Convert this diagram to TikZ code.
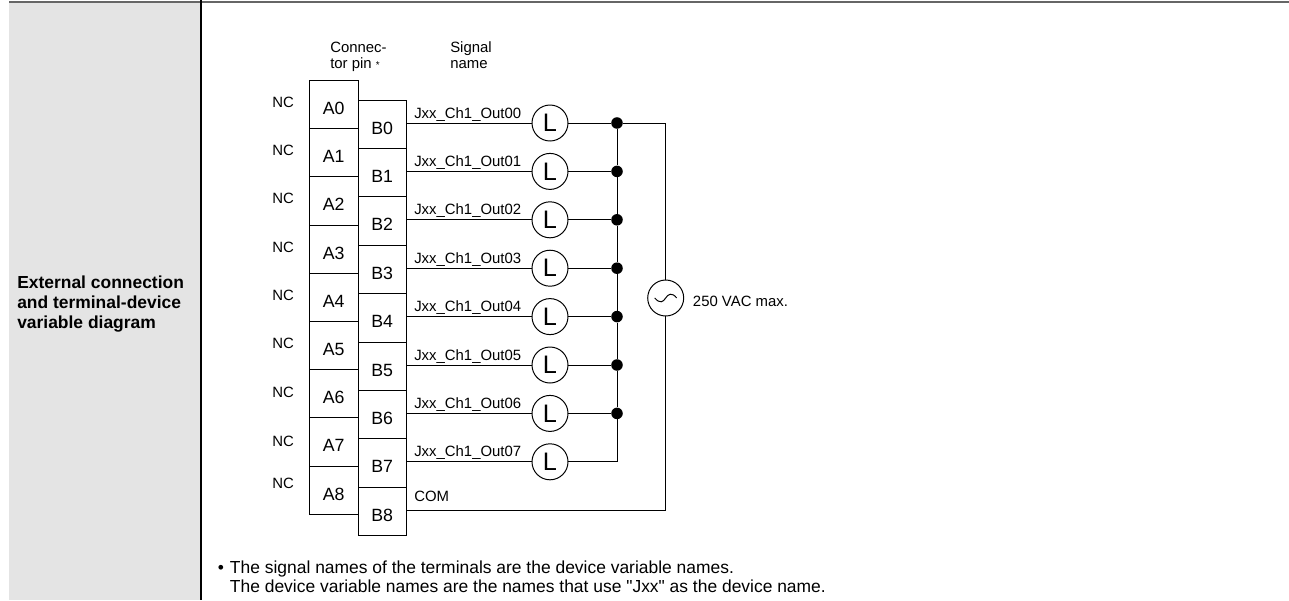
\documentclass[tikz,border=0pt]{standalone}
\usepackage{xcolor}
\usepackage{fontspec}
\setmainfont{Liberation Sans}
\definecolor{panelgray}{HTML}{E4E4E4}
\definecolor{rulegray}{HTML}{666666}
\tikzset{
  pinbox/.style={draw, line width=0.7pt, fill=white, minimum width=34.5pt, minimum height=34.4pt, inner sep=0pt, text height=14pt, text depth=0pt, font=\fontsize{12.6}{14}\selectfont},
  lamp/.style={draw, line width=0.7pt, circle, fill=white, minimum size=25.6pt, inner sep=0pt, font=\fontsize{18}{18}\selectfont},
  junction/.style={circle, fill=black, minimum size=8.2pt, inner sep=0pt},
  wire/.style={line width=0.7pt},
  lbl/.style={anchor=west, inner sep=0pt, text height=8pt, text depth=2.2pt, font=\fontsize{10.6}{12}\selectfont},
  note/.style={anchor=west, inner sep=0pt, text height=9.4pt, text depth=2.6pt, font=\fontsize{12.4}{14}\selectfont}
}
\begin{document}
\begin{tikzpicture}[x=0.025cm, y=-0.025cm]
\useasboundingbox (0,0) rectangle (1289,600);

\fill[panelgray] (9,2) rectangle (200,600);
\draw[rulegray, line width=1.4pt] (9,1.7) -- (1289,1.7);
\draw[black, line width=1.4pt] (201,0) -- (201,600);

\node[lbl] (headpin1) at (330,48.3) {Connec-};
\node[lbl] (headpin2) at (330,64) {tor pin {\fontsize{7}{7}\selectfont *}};
\node[lbl] (headsig1) at (450,48.3) {Signal};
\node[lbl] (headsig2) at (450,64) {name};

\node[pinbox] (a0) at (333.75,104.6) {A0};
\node[pinbox] (a1) at (333.75,152.8) {A1};
\node[pinbox] (a2) at (333.75,201) {A2};
\node[pinbox] (a3) at (333.75,249.2) {A3};
\node[pinbox] (a4) at (333.75,297.4) {A4};
\node[pinbox] (a5) at (333.75,345.6) {A5};
\node[pinbox] (a6) at (333.75,393.8) {A6};
\node[pinbox] (a7) at (333.75,442) {A7};
\node[pinbox] (a8) at (333.75,490.2) {A8};

\node[pinbox] (b0) at (382.25,124.2) {B0};
\node[pinbox] (b1) at (382.25,172.6) {B1};
\node[pinbox] (b2) at (382.25,221) {B2};
\node[pinbox] (b3) at (382.25,269.4) {B3};
\node[pinbox] (b4) at (382.25,317.8) {B4};
\node[pinbox] (b5) at (382.25,366.2) {B5};
\node[pinbox] (b6) at (382.25,414.6) {B6};
\node[pinbox] (b7) at (382.25,463) {B7};
\node[pinbox] (b8) at (382.25,511.4) {B8};

\node[lbl] (nc0) at (272,103.3) {NC};
\node[lbl] (nc1) at (272,151.3) {NC};
\node[lbl] (nc2) at (272,199.7) {NC};
\node[lbl] (nc3) at (272,248) {NC};
\node[lbl] (nc4) at (272,296) {NC};
\node[lbl] (nc5) at (272,344.5) {NC};
\node[lbl] (nc6) at (272,393) {NC};
\node[lbl] (nc7) at (272,442) {NC};
\node[lbl] (nc8) at (272,484.3) {NC};

\node[lbl] (sig0) at (414,114) {Jxx\_Ch1\_Out00};
\node[lbl] (sig1) at (414,162.4) {Jxx\_Ch1\_Out01};
\node[lbl] (sig2) at (414,210.8) {Jxx\_Ch1\_Out02};
\node[lbl] (sig3) at (414,259.2) {Jxx\_Ch1\_Out03};
\node[lbl] (sig4) at (414,307.6) {Jxx\_Ch1\_Out04};
\node[lbl] (sig5) at (414,356) {Jxx\_Ch1\_Out05};
\node[lbl] (sig6) at (414,404.4) {Jxx\_Ch1\_Out06};
\node[lbl] (sig7) at (414,452.8) {Jxx\_Ch1\_Out07};
\node[lbl] (com) at (414,497) {COM};

\node[lamp] (lamp0) at (550,123) {L};
\node[lamp] (lamp1) at (550,171.4) {L};
\node[lamp] (lamp2) at (550,219.8) {L};
\node[lamp] (lamp3) at (550,268.2) {L};
\node[lamp] (lamp4) at (550,316.6) {L};
\node[lamp] (lamp5) at (550,365) {L};
\node[lamp] (lamp6) at (550,413.4) {L};
\node[lamp] (lamp7) at (550,461.8) {L};

\node[junction] (dot0) at (617,123) {};
\node[junction] (dot1) at (617,171.4) {};
\node[junction] (dot2) at (617,219.8) {};
\node[junction] (dot3) at (617,268.2) {};
\node[junction] (dot4) at (617,316.6) {};
\node[junction] (dot5) at (617,365) {};
\node[junction] (dot6) at (617,413.4) {};

\node[lamp] (ac) at (665.7,298) {};
\node[lbl] (acmax) at (692.7,302.7) {250 VAC max.};
\coordinate (acin) at (665.7,123);
\coordinate (acout) at (665.7,510);

\draw[wire] (lamp0.west -| b0.east) -- (lamp0.west);
\draw[wire] (lamp1.west -| b1.east) -- (lamp1.west);
\draw[wire] (lamp2.west -| b2.east) -- (lamp2.west);
\draw[wire] (lamp3.west -| b3.east) -- (lamp3.west);
\draw[wire] (lamp4.west -| b4.east) -- (lamp4.west);
\draw[wire] (lamp5.west -| b5.east) -- (lamp5.west);
\draw[wire] (lamp6.west -| b6.east) -- (lamp6.west);
\draw[wire] (lamp7.west -| b7.east) -- (lamp7.west);

\draw[wire] (lamp0.east) -- (dot0);
\draw[wire] (lamp1.east) -- (dot1);
\draw[wire] (lamp2.east) -- (dot2);
\draw[wire] (lamp3.east) -- (dot3);
\draw[wire] (lamp4.east) -- (dot4);
\draw[wire] (lamp5.east) -- (dot5);
\draw[wire] (lamp6.east) -- (dot6);
\draw[wire] (lamp7.east) -- (lamp7.east -| dot6) -- (dot6);

\draw[wire] (dot0) -- (dot1);
\draw[wire] (dot1) -- (dot2);
\draw[wire] (dot2) -- (dot3);
\draw[wire] (dot3) -- (dot4);
\draw[wire] (dot4) -- (dot5);
\draw[wire] (dot5) -- (dot6);

\draw[wire] (dot0) -- (acin) -- (ac.north);
\draw[wire] (ac.south) -- (acout) -- (acout -| b8.east);
\draw[wire] (654.7,298) .. controls (660,304) and (663,302) .. (665.7,298) .. controls (668,294) and (672,292) .. (676.7,298);

\node[note] (side1) at (17,283.5) {\bfseries External connection};
\node[note] (side2) at (17,303.5) {\bfseries and terminal-device};
\node[note] (side3) at (17,324) {\bfseries variable diagram};

\node[note] (bullet) at (217.7,568.5) {•};
\node[note] (foot1) at (229.7,568.5) {The signal names of the terminals are the device variable names.};
\node[note] (foot2) at (229.7,588) {The device variable names are the names that use \textquotedbl Jxx\textquotedbl{} as the device name.};
\end{tikzpicture}
\end{document}
